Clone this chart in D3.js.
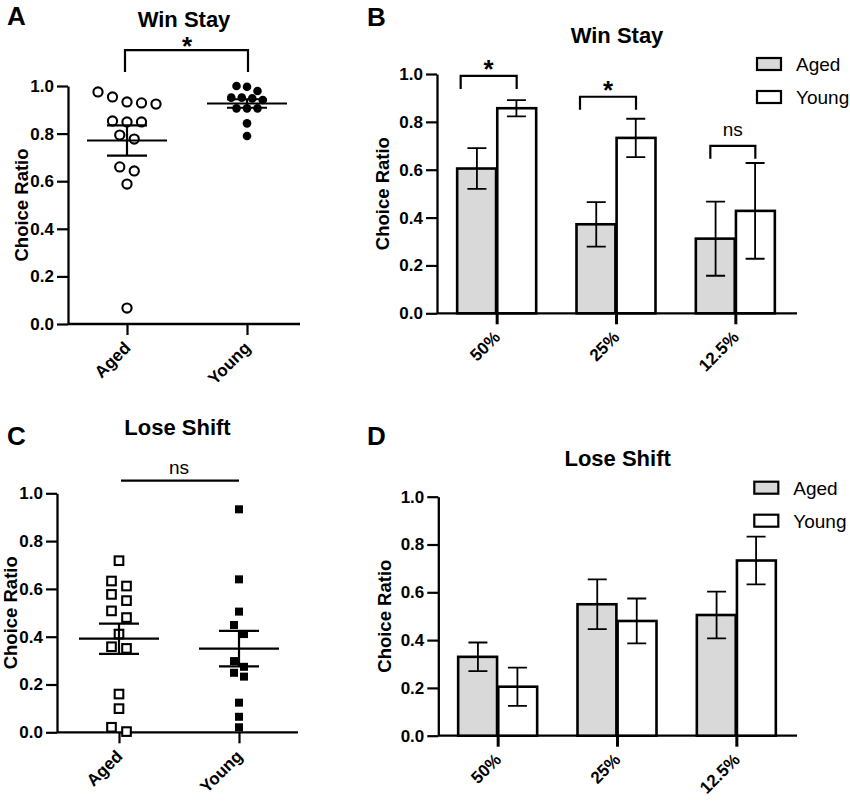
<!DOCTYPE html>
<html>
<head>
<meta charset="utf-8">
<style>
  body { margin: 0; background: #fff; }
  svg { display: block; }
  text { font-family: 'Liberation Sans', Arial, sans-serif; fill: #000; }
</style>
</head>
<body>
<svg width="850" height="801"></svg>
<script src="https://d3js.org/d3.v7.min.js"></script>
<script>
// ---- data ----
const groups = ['Aged', 'Young'];
const probs = ['50%', '25%', '12.5%'];
const yTicks = [0, 0.2, 0.4, 0.6, 0.8, 1.0];

// panel A: win stay, individual animals
const winStayAged = [0.954, 0.929, 0.924, 0.933, 0.975, 0.853, 0.849, 0.849, 0.794, 0.777, 0.643, 0.66, 0.588, 0.067];
const winStayYoung = [1.0, 0.997, 0.979, 0.948, 0.951, 0.951, 0.941, 0.906, 0.906, 0.906, 0.843, 0.79];
// panel C: lose shift, individual animals
const loseShiftAged = [0.718, 0.633, 0.612, 0.577, 0.551, 0.508, 0.48, 0.411, 0.351, 0.358, 0.16, 0.099, 0.003, 0.021];
const loseShiftYoung = [0.933, 0.64, 0.505, 0.449, 0.411, 0.298, 0.274, 0.249, 0.233, 0.124, 0.065, 0.021];

// panel B: win stay by reward probability (mean, sem)
const winStayAgedMean = [0.605, 0.372, 0.312];
const winStayAgedSem = [0.085, 0.093, 0.155];
const winStayYoungMean = [0.857, 0.733, 0.428];
const winStayYoungSem = [0.034, 0.08, 0.2];
// panel D: lose shift by reward probability
const loseShiftAgedMean = [0.33, 0.55, 0.505];
const loseShiftAgedSem = [0.06, 0.104, 0.098];
const loseShiftYoungMean = [0.205, 0.48, 0.733];
const loseShiftYoungSem = [0.08, 0.094, 0.1];

// significance marks
const winStayBarSig = [
  {cat: '50%', label: '*', level: 0.992},
  {cat: '25%', label: '*', level: 0.905},
  {cat: '12.5%', label: 'ns', level: 0.70}
];

const svg = d3.select('svg');

function styleTicks(a) {
  a.selectAll('line').attr('stroke', '#000').attr('stroke-width', 2.2);
  a.selectAll('text').attr('font-size', '17px').attr('font-weight', 'bold').attr('fill', '#000')
    .attr('font-family', "'Liberation Sans', Arial, sans-serif");
}

function frame(p, y) {
  // y axis
  const ya = svg.append('g').attr('transform', `translate(${p.x0},0)`)
    .call(d3.axisLeft(y).tickValues(yTicks).tickFormat(d3.format('.1f')).tickSize(11).tickPadding(3).tickSizeOuter(0));
  ya.select('.domain').attr('stroke', '#000').attr('stroke-width', 2.3);
  styleTicks(ya);

  // x baseline
  svg.append('line')
    .attr('x1', p.x0).attr('x2', p.xEnd).attr('y1', y(0)).attr('y2', y(0))
    .attr('stroke', '#000').attr('stroke-width', 2.3);

  // title, letter, y label
  svg.append('text').attr('x', (p.x0 + p.xEnd) / 2).attr('y', p.titleY)
    .attr('text-anchor', 'middle').attr('font-size', '22px').attr('font-weight', 'bold').text(p.title);
  svg.append('text').attr('x', p.letterX).attr('y', p.letterY)
    .attr('font-size', '26px').attr('font-weight', 'bold').text(p.letter);
  svg.append('text')
    .attr('transform', `translate(${p.labelX},${(y(0) + y(1)) / 2}) rotate(-90)`)
    .attr('text-anchor', 'middle').attr('font-size', '18.5px').attr('font-weight', 'bold').text('Choice Ratio');
}

function xTicks(scale, y) {
  const xa = svg.append('g').attr('transform', `translate(0,${y(0)})`)
    .call(d3.axisBottom(scale).tickSize(11).tickSizeOuter(0));
  xa.select('.domain').remove();
  styleTicks(xa);
  xa.selectAll('text')
    .attr('x', 0).attr('y', 0).attr('dy', 0)
    .attr('text-anchor', 'end')
    .attr('transform', 'translate(4,25) rotate(-45)');
}

// points grouped into rows by height, spread symmetrically (prism-like scatter)
function swarm(values, y, rowPx, spacing) {
  const idx = values.map((v, i) => i).sort((a, b) => values[b] - values[a]);
  const off = new Array(values.length).fill(0);
  let row = [];
  const flush = () => {
    row.forEach((i, k) => { off[i] = (k - (row.length - 1) / 2) * spacing; });
    row = [];
  };
  idx.forEach(i => {
    if (row.length && y(values[i]) - y(values[row[0]]) > rowPx) flush();
    row.push(i);
  });
  flush();
  return off;
}

function meanSem(g, cx, vals, y) {
  const m = d3.mean(vals);
  const s = d3.deviation(vals) / Math.sqrt(vals.length);
  const line = (x1, x2, y1, y2) => g.append('line').attr('x1', x1).attr('x2', x2).attr('y1', y1).attr('y2', y2)
    .attr('stroke', '#000').attr('stroke-width', 2.2);
  line(cx - 40, cx + 40, y(m), y(m));
  line(cx - 20, cx + 20, y(m + s), y(m + s));
  line(cx - 20, cx + 20, y(m - s), y(m - s));
  line(cx, cx, y(m + s), y(m - s));
}

function dotPanel(p, aged, young, sig) {
  const y = d3.scaleLinear().domain([0, 1]).range([p.yBottom, p.yTop]);
  const x = d3.scalePoint().domain(groups).range(p.cats);
  frame(p, y);
  xTicks(x, y);

  const g = svg.append('g');
  const offA = swarm(aged, y, p.rowA, p.spaceA);
  const offY = swarm(young, y, p.rowY, p.spaceY);

  if (p.shape === 'circle') {
    g.selectAll('.ca').data(aged).join('circle')
      .attr('cx', (d, i) => x('Aged') + offA[i]).attr('cy', d => y(d)).attr('r', 4.6)
      .attr('fill', '#fff').attr('stroke', '#000').attr('stroke-width', 2.1);
    g.selectAll('.cy').data(young).join('circle')
      .attr('cx', (d, i) => x('Young') + offY[i]).attr('cy', d => y(d)).attr('r', 4.3)
      .attr('fill', '#000');
  } else {
    g.selectAll('.sa').data(aged).join('rect')
      .attr('x', (d, i) => x('Aged') + offA[i] - 4.3).attr('y', d => y(d) - 4.3)
      .attr('width', 8.6).attr('height', 8.6)
      .attr('fill', '#fff').attr('stroke', '#000').attr('stroke-width', 2.1);
    g.selectAll('.sy').data(young).join('rect')
      .attr('x', (d, i) => x('Young') + offY[i] - 4).attr('y', d => y(d) - 4)
      .attr('width', 8).attr('height', 8).attr('fill', '#000');
  }
  meanSem(g, x('Aged'), aged, y);
  meanSem(g, x('Young'), young, y);

  // significance
  const ly = y(sig.level);
  const path = sig.legs
    ? `M${x('Aged') - 2},${ly + sig.legs}V${ly}H${x('Young') + 1}V${ly + sig.legs}`
    : `M${x('Aged') + 2},${ly}H${x('Young')}`;
  svg.append('path').attr('d', path).attr('fill', 'none').attr('stroke', '#000').attr('stroke-width', 2.2);
  const mid = (x('Aged') + x('Young')) / 2;
  svg.append('text').attr('x', mid).attr('y', ly + sig.dy).attr('text-anchor', 'middle')
    .attr('font-size', sig.label === '*' ? '26px' : '19px')
    .attr('font-weight', sig.label === '*' ? 'bold' : 'normal')
    .text(sig.label);
}

function barPanel(p, agedMean, agedSem, youngMean, youngSem, sigs) {
  const y = d3.scaleLinear().domain([0, 1]).range([p.yBottom, p.yTop]);
  const x = d3.scaleBand().domain(probs).range(p.band).padding(0);
  const xs = d3.scaleBand().domain(groups).range([-39.5, 39.5]).padding(0);
  frame(p, y);

  const rows = probs.map((c, i) => [
    {cat: c, grp: 'Aged', m: agedMean[i], s: agedSem[i]},
    {cat: c, grp: 'Young', m: youngMean[i], s: youngSem[i]}
  ]).flat();

  const g = svg.append('g');
  const cx = d => x(d.cat) + x.bandwidth() / 2;
  g.selectAll('rect').data(rows).join('rect')
    .attr('x', d => cx(d) + xs(d.grp) + (d.grp === 'Aged' ? 0 : 0.6))
    .attr('width', xs.bandwidth() - 0.6)
    .attr('y', d => y(d.m)).attr('height', d => y(0) - y(d.m))
    .attr('fill', d => d.grp === 'Aged' ? '#d9d9d9' : '#fff')
    .attr('stroke', '#000').attr('stroke-width', 2.6);

  const eb = g.selectAll('.eb').data(rows).join('g')
    .attr('transform', d => `translate(${cx(d) + xs(d.grp) + xs.bandwidth() / 2},0)`);
  eb.append('path')
    .attr('d', d => `M-9.5,${y(d.m + d.s)}H9.5M0,${y(d.m + d.s)}V${y(d.m - d.s)}M-9.5,${y(d.m - d.s)}H9.5`)
    .attr('fill', 'none').attr('stroke', '#000').attr('stroke-width', 1.8);

  const xa = svg.append('g').attr('transform', `translate(0,${y(0)})`)
    .call(d3.axisBottom(d3.scalePoint().domain(probs).range([cx({cat: probs[0]}), cx({cat: probs[2]})]))
      .tickSize(11).tickSizeOuter(0));
  xa.select('.domain').remove();
  styleTicks(xa);
  xa.selectAll('line').attr('stroke-width', 3);
  xa.selectAll('text').attr('x', 0).attr('y', 0).attr('dy', 0).attr('text-anchor', 'end')
    .attr('transform', 'translate(4,25) rotate(-45)');

  // legend
  const lg = svg.append('g').attr('transform', `translate(${p.legX},${p.legY})`);
  groups.forEach((grp, i) => {
    lg.append('rect').attr('x', 0).attr('y', i * 33).attr('width', 24).attr('height', 12)
      .attr('fill', grp === 'Aged' ? '#d9d9d9' : '#fff').attr('stroke', '#000').attr('stroke-width', 2.2);
    lg.append('text').attr('x', 39).attr('y', i * 33 + 13).attr('font-size', '19px').text(grp);
  });

  // brackets
  const lefts = [-36, -36, -25];
  (sigs || []).forEach((s, i) => {
    const c = x(s.cat) + x.bandwidth() / 2;
    const ly = y(s.level);
    svg.append('path').attr('d', `M${c + lefts[i]},${ly + 13}V${ly}H${c + 20}V${ly + 13}`)
      .attr('fill', 'none').attr('stroke', '#000').attr('stroke-width', 2.2);
    const star = s.label === '*';
    svg.append('text').attr('x', c + (lefts[i] + 20) / 2).attr('y', star ? ly + 2 : ly - 10)
      .attr('text-anchor', 'middle').attr('font-size', star ? '26px' : '19px')
      .attr('font-weight', star ? 'bold' : 'normal').text(s.label);
  });
}

dotPanel({x0: 68, xEnd: 300, yBottom: 324, yTop: 86, cats: [127, 247],
  title: 'Win Stay', titleY: 27, letter: 'A', letterX: 7, letterY: 25, labelX: 28,
  shape: 'circle', rowA: 12.5, spaceA: 14.5, rowY: 9, spaceY: 10.5},
  winStayAged, winStayYoung, {label: '*', level: 1.151, legs: 22, dy: 5});

dotPanel({x0: 57, xEnd: 298, yBottom: 732.3, yTop: 493.3, cats: [119, 239],
  title: 'Lose Shift', titleY: 435, letter: 'C', letterX: 7, letterY: 445, labelX: 17,
  shape: 'square', rowA: 10.5, spaceA: 15, rowY: 10, spaceY: 10},
  loseShiftAged, loseShiftYoung, {label: 'ns', level: 1.053, legs: 0, dy: -7});

barPanel({x0: 437, xEnd: 797, yBottom: 313.3, yTop: 74, band: [437, 795],
  title: 'Win Stay', titleY: 43, letter: 'B', letterX: 367, letterY: 26, labelX: 389,
  legX: 757, legY: 58},
  winStayAgedMean, winStayAgedSem, winStayYoungMean, winStayYoungSem, winStayBarSig);

barPanel({x0: 438.3, xEnd: 797, yBottom: 735.7, yTop: 496.7, band: [438, 796],
  title: 'Lose Shift', titleY: 466, letter: 'D', letterX: 367, letterY: 445, labelX: 390.5,
  legX: 754.3, legY: 481.7},
  loseShiftAgedMean, loseShiftAgedSem, loseShiftYoungMean, loseShiftYoungSem, null);
</script>
</body>
</html>
